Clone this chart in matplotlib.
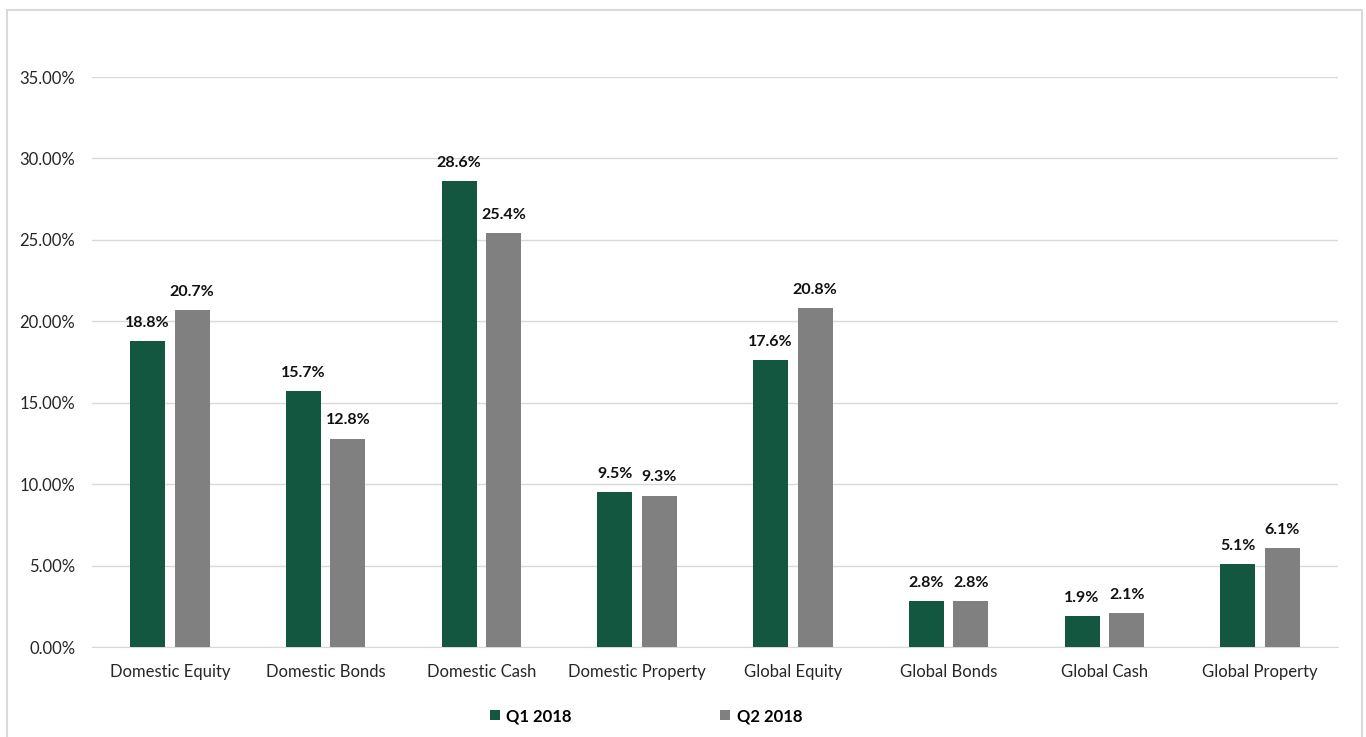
import matplotlib.pyplot as plt
import numpy as np
from matplotlib.patches import Rectangle
from matplotlib.ticker import FuncFormatter

plt.rcParams['font.family'] = ['Lato', 'DejaVu Sans']

categories = ['Domestic Equity', 'Domestic Bonds', 'Domestic Cash', 'Domestic Property',
              'Global Equity', 'Global Bonds', 'Global Cash', 'Global Property']
q1_2018 = [18.8, 15.7, 28.6, 9.5, 17.6, 2.8, 1.9, 5.1]
q2_2018 = [20.7, 12.8, 25.4, 9.3, 20.8, 2.8, 2.1, 6.1]
series_names = ['Q1 2018', 'Q2 2018']

GREEN = '#135741'
GREY = '#808080'

fig = plt.figure(figsize=(13.66, 7.37), dpi=100)
ax = fig.add_axes([92 / 1366, 1 - 647 / 737, (1338 - 92) / 1366, (647 - 77) / 737])

x = np.arange(len(categories))
w = 0.225
off = 0.143
b1 = ax.bar(x - off, q1_2018, w, color=GREEN, label=series_names[0], zorder=3)
b2 = ax.bar(x + off, q2_2018, w, color=GREY, label=series_names[1], zorder=3)

for bars, vals in ((b1, q1_2018), (b2, q2_2018)):
    for rect, v in zip(bars, vals):
        ax.annotate(f'{v:.1f}%', (rect.get_x() + rect.get_width() / 2, v),
                    xytext=(0, 8), textcoords='offset points',
                    ha='center', va='bottom', fontsize=11.5, fontweight='bold',
                    color='#111111')

ax.set_xlim(-0.5, len(categories) - 0.5)
ax.set_ylim(0, 35)
ax.set_yticks(np.arange(0, 36, 5))
ax.yaxis.set_major_formatter(FuncFormatter(lambda v, _: f'{v:.2f}%'))
ax.set_xticks(x)
ax.set_xticklabels(categories)
ax.tick_params(axis='both', length=0, labelsize=12, colors='#262626')
ax.tick_params(axis='y', pad=12)
ax.tick_params(axis='x', pad=12)
ax.grid(axis='y', color='#d9d9d9', linewidth=1, zorder=0)
for side in ('top', 'right', 'left'):
    ax.spines[side].set_visible(False)
ax.spines['bottom'].set_color('#d9d9d9')

leg = fig.legend(handles=[b1, b2], loc='center', bbox_to_anchor=(0.473, 1 - 716 / 737),
                 ncol=2, frameon=False, handlelength=0.6, handleheight=0.6,
                 handletextpad=0.4, columnspacing=8.9,
                 prop={'weight': 'bold', 'size': 12})

# outer chart border
fig.patches.append(Rectangle((7 / 1366, -0.05), (1362 - 7) / 1366, 1.05 - 10 / 737,
                             transform=fig.transFigure, fill=False,
                             edgecolor='#d9d9d9', linewidth=1.5))

fig.savefig('out.png', dpi=100)
